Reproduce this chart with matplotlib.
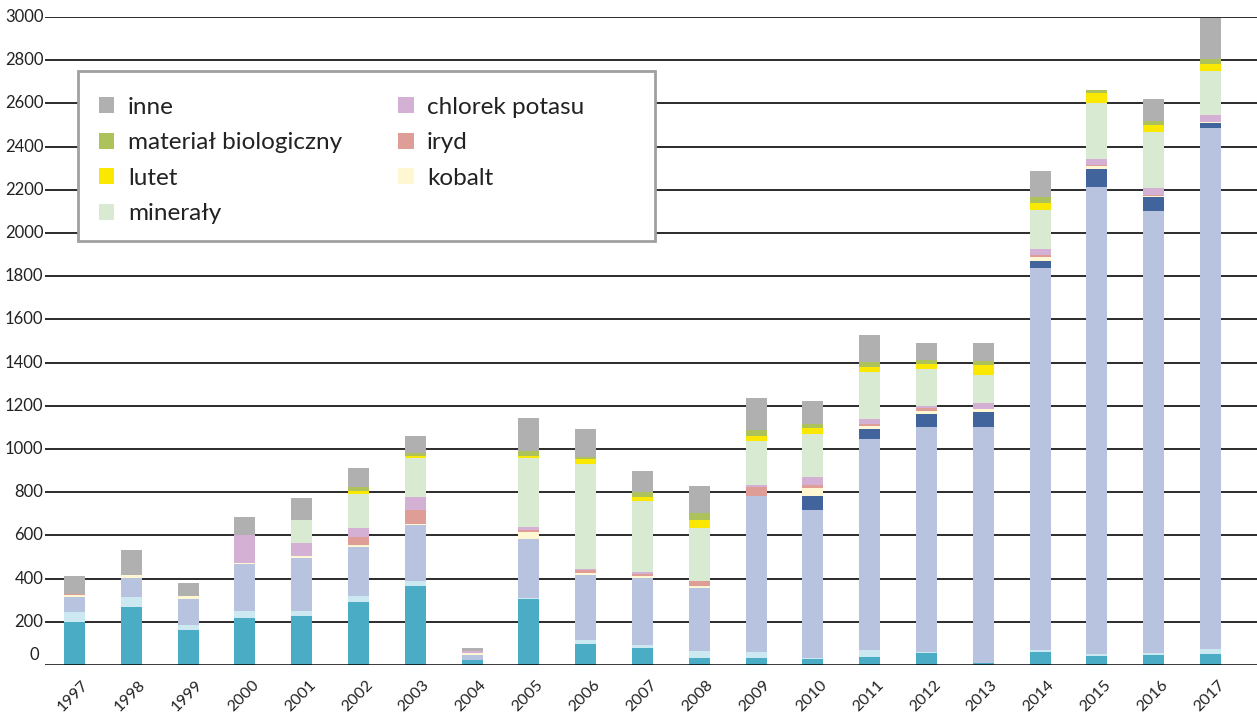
import matplotlib
matplotlib.use("Agg")
import matplotlib.pyplot as plt
import matplotlib.transforms as mtransforms
from matplotlib.patches import Rectangle
import numpy as np

years = [str(y) for y in range(1997, 2018)]

# bottom -> top stacking order
teal = [200, 270, 163, 219, 228, 293, 366, 24, 307, 98, 80, 33, 33, 29, 38, 57, 11, 61, 43, 48, 52]
jasny = [47, 46, 23, 32, 23, 28, 24, 0, 5, 19, 13, 33, 28, 4, 32, 4, 0, 9, 9, 9, 23]
lawenda = [69, 87, 121, 218, 246, 226, 256, 24, 272, 301, 310, 292, 722, 685, 978, 1042, 1092, 1769, 2162, 2046, 2413]
granat = [0, 0, 0, 0, 0, 0, 0, 0, 0, 0, 0, 0, 0, 65, 46, 60, 69, 32, 83, 62, 23]
kobalt = [9, 14, 14, 5, 9, 9, 5, 8, 33, 9, 10, 9, 0, 37, 14, 14, 14, 19, 14, 5, 4]
iryd = [5, 0, 0, 0, 0, 37, 68, 0, 8, 14, 9, 23, 41, 14, 9, 14, 0, 9, 5, 5, 0]
chlorek = [0, 0, 0, 128, 60, 41, 60, 10, 14, 4, 9, 0, 9, 37, 23, 9, 28, 28, 28, 33, 33]
mineraly = [0, 0, 0, 0, 105, 157, 180, 0, 321, 486, 329, 245, 204, 199, 218, 171, 129, 181, 259, 259, 203]
lutet = [0, 0, 0, 0, 0, 14, 9, 0, 8, 23, 19, 37, 23, 28, 23, 23, 47, 32, 46, 33, 33]
biologiczny = [0, 0, 0, 0, 0, 19, 12, 0, 24, 8, 22, 31, 28, 18, 23, 19, 18, 25, 14, 19, 23]
inne = [83, 117, 60, 83, 102, 88, 82, 14, 152, 131, 97, 127, 148, 106, 125, 79, 84, 123, 0, 101, 190]

yticks = list(range(0, 3001, 200))

series = [
    (teal, None, "#4BACC6"),
    (jasny, None, "#CCE9F1"),
    (lawenda, None, "#B7C3DF"),
    (granat, None, "#41649C"),
    (kobalt, "kobalt", "#FFF7D1"),
    (iryd, "iryd", "#DE9D96"),
    (chlorek, "chlorek potasu", "#D5B0D5"),
    (mineraly, "minerały", "#D9EAD2"),
    (lutet, "lutet", "#FBE800"),
    (biologiczny, "materiał biologiczny", "#ADC25A"),
    (inne, "inne", "#B0B0B0"),
]

plt.rcParams['font.family'] = ['Lato', 'DejaVu Sans']
fig = plt.figure(figsize=(12.57, 7.15), dpi=100)
W, H = 1257, 715
ax = fig.add_axes([45 / W, (H - 665) / H, (W - 45) / W, 648 / H])

x = np.arange(len(years))
bottom = np.zeros(len(years))
handles = {}
for vals, name, col in series:
    v = np.array(vals, dtype=float)
    b = ax.bar(x, v, bottom=bottom, width=0.37, color=col, linewidth=0, zorder=3)
    if name:
        handles[name] = b
    bottom += v

ax.set_xlim(-0.52, 20.82)
ax.set_ylim(0, 3000)

for t in yticks[1:]:
    ax.axhline(t, color="#1a1a1a", lw=1.3, zorder=1)
ax.axhline(0, color="black", lw=1.8, zorder=4)

for s in ax.spines.values():
    s.set_visible(False)
ax.set_yticks([])
ax.tick_params(axis='x', length=0, pad=9)
ax.set_xticks(x)
ax.set_xticklabels(years, rotation=45, ha='right', rotation_mode='anchor',
                   fontsize=11.5, color="#222222")
shift = mtransforms.ScaledTranslation(7 / 100, 0, fig.dpi_scale_trans)
for lab in ax.get_xticklabels():
    lab.set_transform(lab.get_transform() + shift)

for t in yticks:
    off = 10 if t == 0 else 0
    ax.text(-0.55 if t != 0 else -0.63, t, str(t), ha='right', va='center', fontsize=12,
            color="#222222",
            transform=ax.transData + mtransforms.ScaledTranslation(0, off / 100, fig.dpi_scale_trans),
            clip_on=False)

# legend frame
frame = Rectangle((78 / W, (H - 241) / H), 577 / W, 170 / H, transform=fig.transFigure,
                  facecolor="white", edgecolor="#A0A0A0", linewidth=2, zorder=9, clip_on=False)
ax.add_patch(frame)

order = ["inne", "materiał biologiczny", "lutet", "minerały", "chlorek potasu", "iryd", "kobalt"]
leg = ax.legend([handles[n] for n in order], order, ncol=2, loc='upper left',
                bbox_to_anchor=((78 - 45) / 1212, (665 - 76) / 648), borderaxespad=0,
                fontsize=17.5, frameon=False, handlelength=0.65, handleheight=0.65,
                handletextpad=0.55, columnspacing=2.3, labelspacing=0.6,
                borderpad=0.85, labelcolor="#222222")
leg.set_zorder(10)

fig.savefig("out.png", dpi=100)
